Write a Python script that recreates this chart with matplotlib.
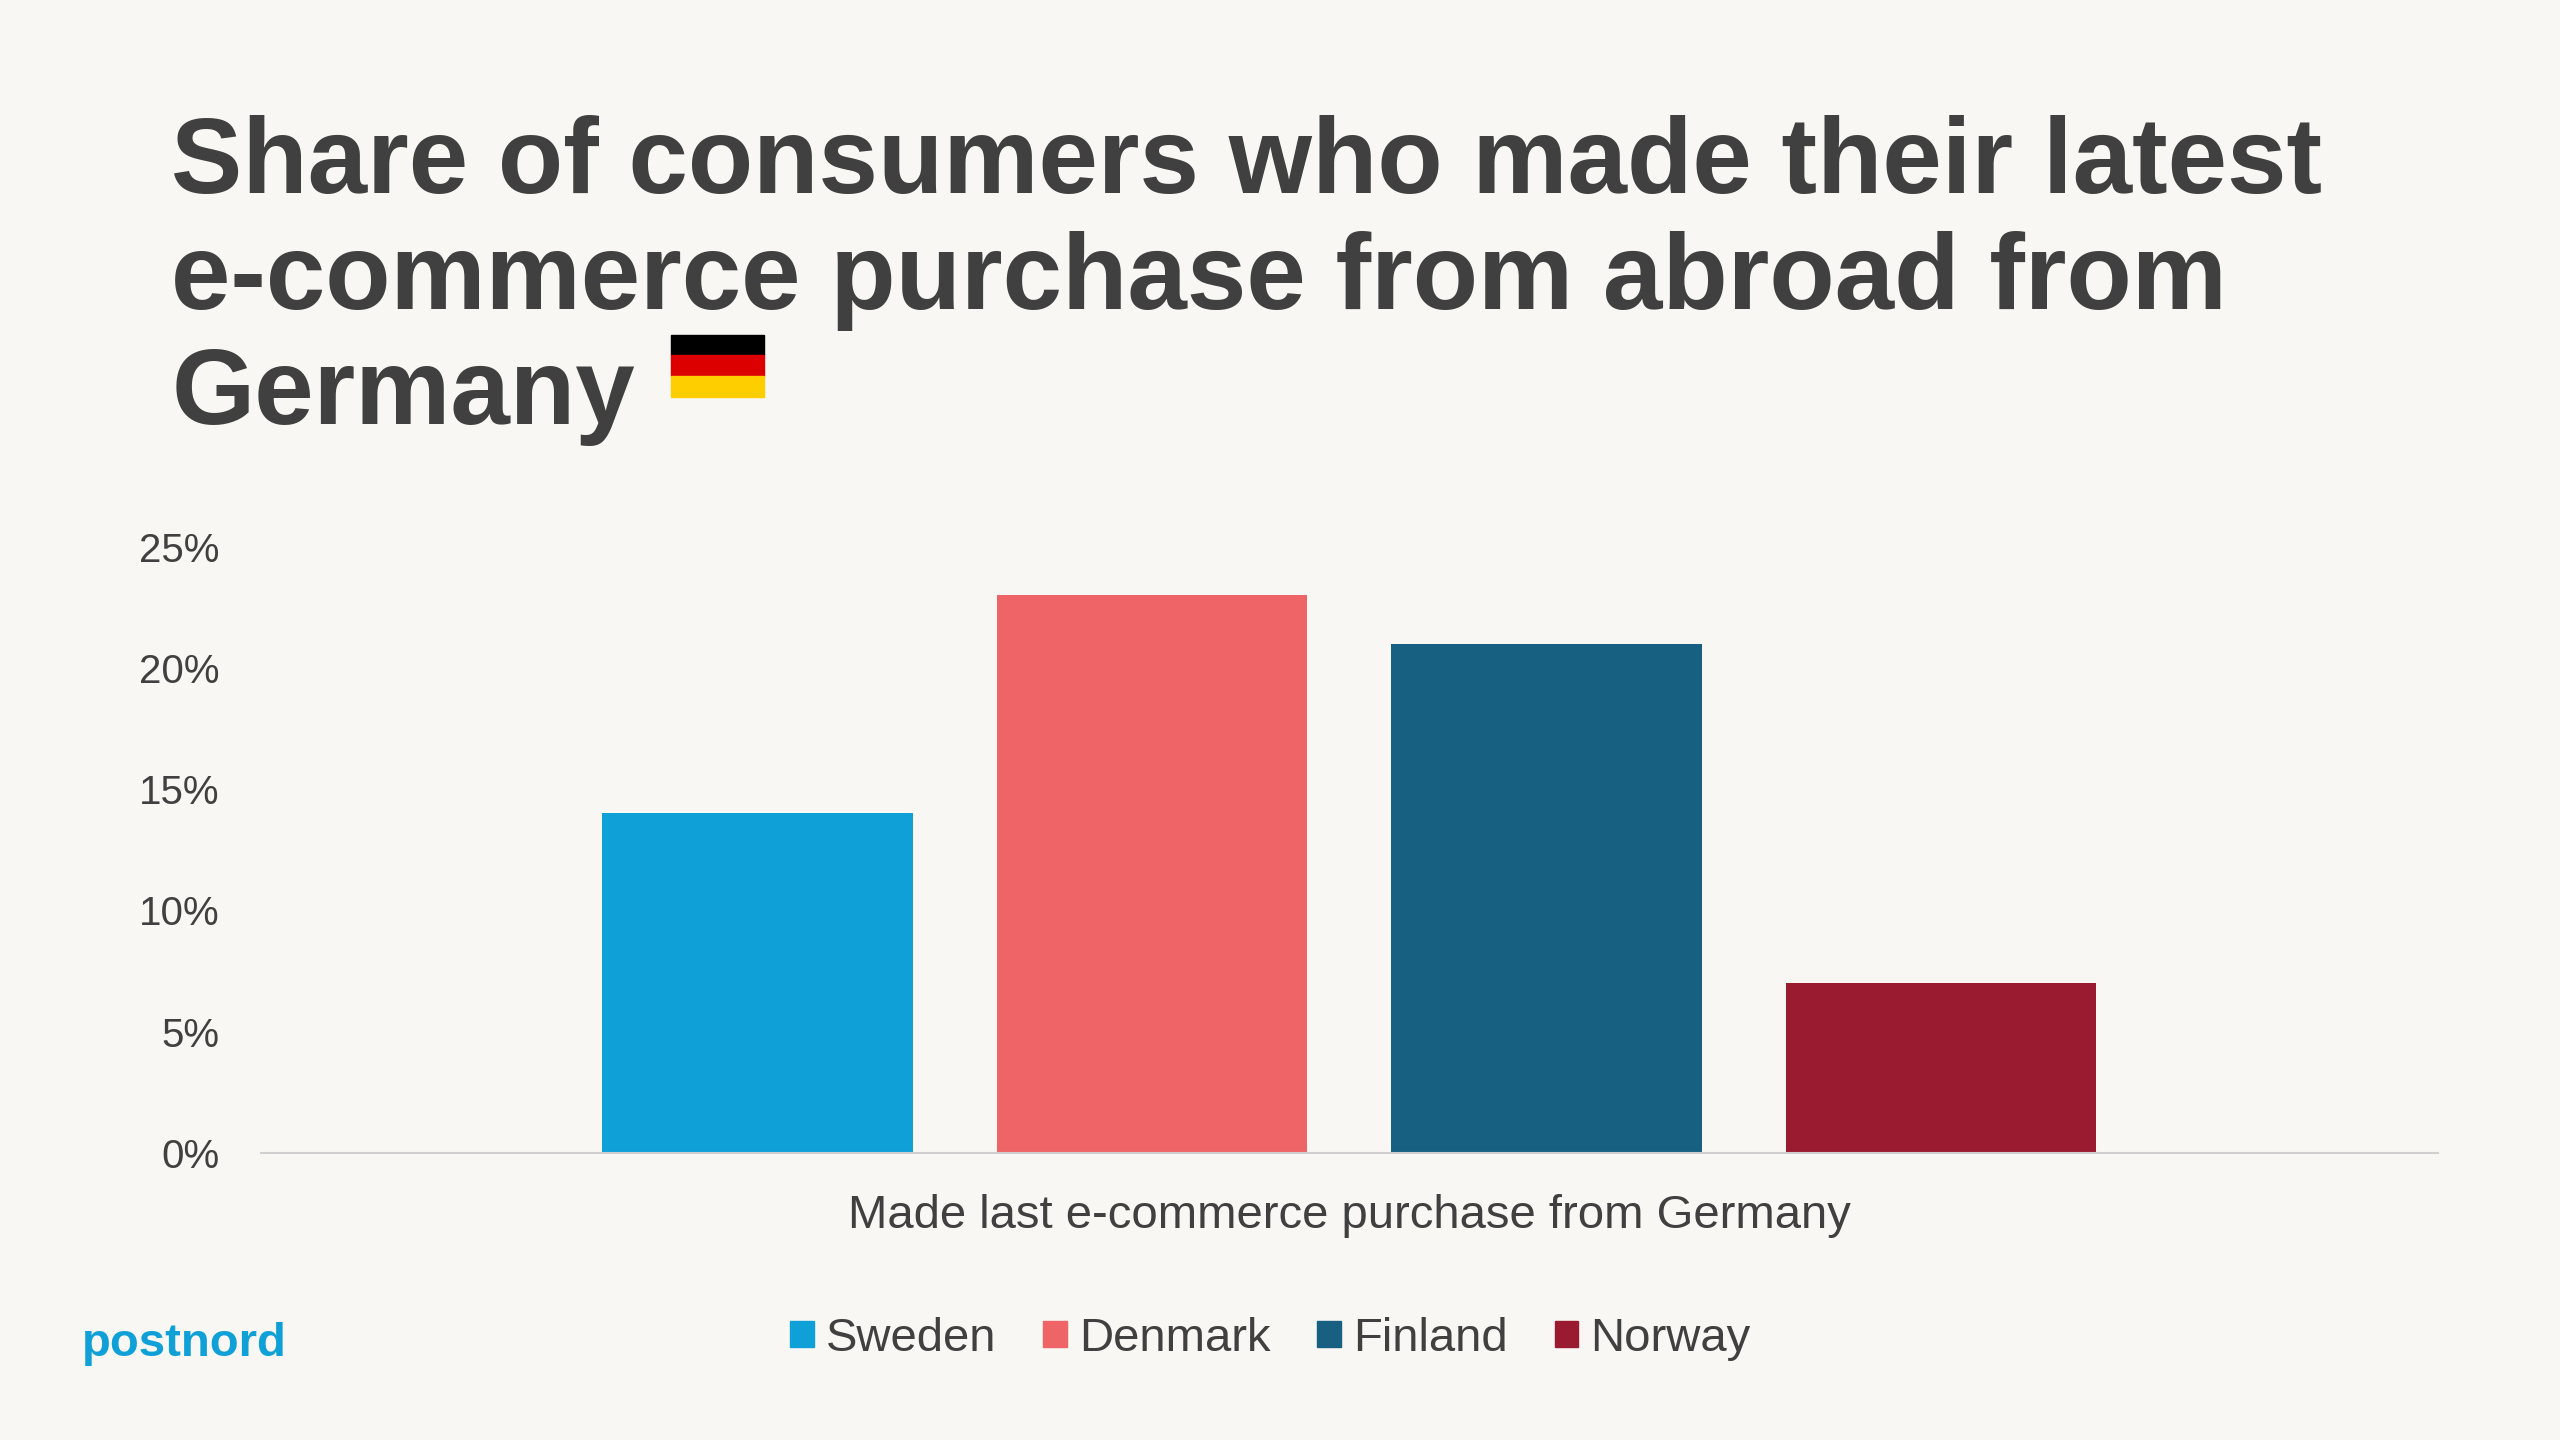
import matplotlib
matplotlib.use("Agg")
import matplotlib.pyplot as plt
from matplotlib.patches import Rectangle
import numpy as np

countries = ["Sweden", "Denmark", "Finland", "Norway"]
shares = [14, 23, 21, 7]
colors = ["#0FA0D8", "#EF6467", "#176082", "#9A1B30"]
category = "Made last e-commerce purchase from Germany"
yticks = [0, 5, 10, 15, 20, 25]

BG = "#F8F7F3"
TXT = "#404040"
plt.rcParams["font.family"] = ["Liberation Sans", "DejaVu Sans"]

fig = plt.figure(figsize=(25.6, 14.4), dpi=100, facecolor=BG)
W, H = 1568, 882  # reference pixel frame

# baseline of the last title line
fig.text(105 / W, 1 - 260 / H,
         "Share of consumers who made their latest\ne-commerce purchase from abroad from\nGermany",
         fontsize=77, fontweight="bold", color=TXT, va="baseline", ha="left",
         linespacing=1.2)

# German flag glyph
fx0, fx1, fy0, fy1 = 411 / W, 468 / W, 1 - 243 / H, 1 - 205 / H
for i, c in enumerate(["#000000", "#DD0000", "#FFCE00"]):
    h = (fy1 - fy0) / 3
    fig.patches.append(Rectangle((fx0, fy1 - (i + 1) * h), fx1 - fx0, h,
                                 transform=fig.transFigure, color=c))

ax = fig.add_axes([160 / W, 1 - 706 / H, (1493 - 160) / W, (706 - 335) / H])
ax.set_facecolor(BG)
offsets = (np.arange(len(countries)) - 1.5) * 0.1813
ax.bar(offsets, shares, width=0.1426, color=colors, label=countries)
ax.set_xlim(-0.5, 0.5)
ax.set_ylim(0, 25)
ax.set_yticks(yticks)
ax.set_yticklabels([f"{v}%" for v in yticks], fontsize=29, color=TXT)
ax.set_xticks([0])
ax.set_xticklabels([category], fontsize=34, color=TXT)
ax.tick_params(length=0)
ax.tick_params(axis="x", pad=30)
ax.tick_params(axis="y", pad=30)
for s in ["top", "right", "left"]:
    ax.spines[s].set_visible(False)
ax.spines["bottom"].set_color("#D0D0D0")
ax.spines["bottom"].set_linewidth(1.5)

handles = [Rectangle((0, 0), 1, 1, color=c) for c in colors]
fig.legend(handles, countries, loc="center", bbox_to_anchor=(778 / W, 1 - 820 / H),
           ncol=4, frameon=False, fontsize=34, handlelength=0.5, handleheight=0.5,
           handletextpad=0.25, columnspacing=1.0, labelcolor=TXT)

fig.text(50 / W, 1 - 823 / H, "postnord", fontsize=34, fontweight="bold",
         color="#0FA0D8", va="center", ha="left")

fig.savefig("out.png", facecolor=BG)
